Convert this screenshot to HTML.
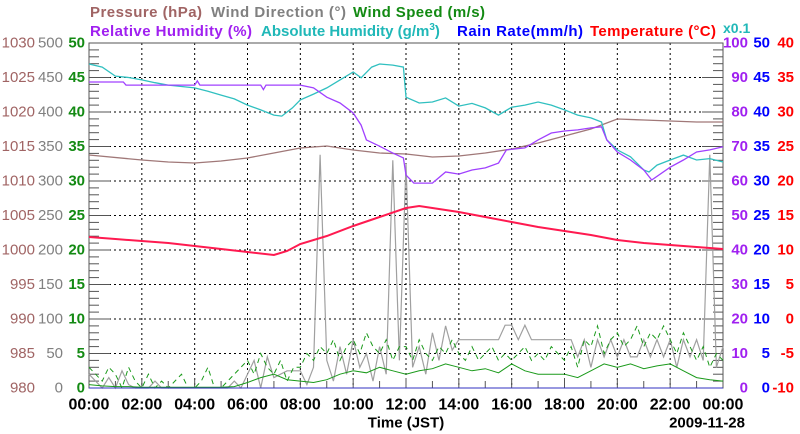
<!DOCTYPE html>
<html><head><meta charset="utf-8"><style>
html,body{margin:0;padding:0;background:#fff;}
svg{display:block;font-family:"Liberation Sans",Arial,sans-serif;}
</style></head><body>
<svg id="chart" width="800" height="434" viewBox="0 0 800 434" xmlns="http://www.w3.org/2000/svg">
<g id="titles" font-weight="bold" font-size="15">
<text x="90" y="17" fill="#a06464" textLength="112">Pressure (hPa)</text>
<text x="211" y="17" fill="#808080" textLength="135">Wind Direction (°)</text>
<text x="353" y="17" fill="#138a13" textLength="132">Wind Speed (m/s)</text>
<text x="90" y="36" fill="#a020f0" textLength="162">Relative Humidity (%)</text>
<text x="261" y="36" fill="#20b8b8">Absolute Humidity (g/m<tspan font-size="10" dy="-6">3</tspan><tspan dy="6">)</tspan></text>
<text x="457" y="36" fill="#0000ff" textLength="126">Rain Rate(mm/h)</text>
<text x="590" y="36" fill="#ff0000" textLength="126">Temperature (°C)</text>
<text x="723" y="33" fill="#20b8b8" font-size="14">x0.1</text>
</g>
<g id="grid"></g>
<g id="axes"></g>
<g id="series"></g>
<g id="labels"></g>
</svg>
<script>
// ---- data ----
const hourTicks = ["00:00","02:00","04:00","06:00","08:00","10:00","12:00","14:00","16:00","18:00","20:00","22:00","00:00"];
const pressureTicks = [980,985,990,995,1000,1005,1010,1015,1020,1025,1030];
const windDirTicks = [0,50,100,150,200,250,300,350,400,450,500];
const windSpeedTicks = [0,5,10,15,20,25,30,35,40,45,50];
const rhTicks = [0,10,20,30,40,50,60,70,80,90,100];
const rainTicks = [0,5,10,15,20,25,30,35,40,45,50];
const tempTicks = [-10,-5,0,5,10,15,20,25,30,35,40];

const tempTimes = [0,1,2,3,4,5,6,7,7.5,8,9,10,11,12,12.5,13,14,15,16,17,18,19,20,21,22,23,24];
const tempValues = [11.88,11.59,11.30,11.01,10.58,10.14,9.71,9.28,9.86,10.87,12.03,13.48,14.78,16.09,16.38,16.09,15.51,14.78,14.06,13.33,12.75,12.17,11.45,11.01,10.72,10.43,10.14];

const presTimes = [0,2,3,4,5,6,7,8,9,10,11,12,13,14,15,16,17,18,19,19.5,20,21,22,23,24];
const presValues = [1013.77,1013.04,1012.75,1012.61,1012.90,1013.33,1014.06,1014.78,1015.07,1014.49,1014.06,1013.91,1013.48,1013.62,1014.06,1014.64,1015.51,1016.52,1017.54,1018.26,1018.99,1018.84,1018.70,1018.55,1018.55];

const rhTimes = [0,1.3,1.4,4,4.1,4.2,6.5,6.6,6.7,8,8.5,9,9.5,10,10.3,10.5,11,11.5,11.9,12,12.3,13,13.5,14,14.5,15,15.5,15.8,16.5,17,17.5,18,18.5,19,19.4,19.6,20,20.5,21,21.3,22,22.5,23,23.5,24];
const rhValues = [88.7,88.7,87.8,87.8,89.0,87.8,87.8,86.5,87.8,87.8,87.0,84.3,82.6,79.7,76.2,71.9,70.1,68.1,66.7,61.7,59.4,59.4,62.6,62.0,63.2,63.8,65.2,69.0,69.6,71.9,73.9,74.5,74.8,75.4,75.7,71.9,68.4,66.1,63.2,60.3,64.0,66.1,68.4,69.0,69.9];

const ahTimes = [0,0.5,1,1.5,2,2.5,3,3.5,4,4.5,5,5.5,6,6.5,7,7.3,7.7,8,8.5,9,9.5,10,10.3,10.7,11,11.5,11.9,12,12.5,13,13.5,14,14.5,15,15.5,16,16.5,17,17.5,18,18.5,19,19.4,19.6,20,20.5,21,21.2,21.5,22,22.5,23,23.5,24];
const ahValues = [9.39,9.30,9.04,9.00,8.93,8.85,8.78,8.74,8.70,8.60,8.49,8.38,8.20,8.06,7.91,7.88,8.12,8.35,8.52,8.70,8.93,9.16,8.99,9.30,9.39,9.36,9.30,8.43,8.26,8.29,8.41,8.17,8.25,8.12,7.91,8.14,8.20,8.29,8.20,8.06,7.91,7.83,7.71,7.19,6.90,6.70,6.32,6.26,6.46,6.61,6.75,6.61,6.65,6.55];

const gustValues = [3,2,1,3, 2,0,3,1, 0,2,0,1, 0,1,2,0, 0,1,3,0, 0,1,2,3, 4,2,5,3, 2,4,1,3, 3,5,4,6, 5,7,4,6, 7,5,8,6, 5,7,4,6, 6,4,7,5, 4,6,5,7, 5,4,6,4, 5,6,4,5, 4,5,6,4, 5,4,6,5, 4,6,3,7, 6,9,5,7, 8,6,7,9, 6,8,7,9, 7,5,8,6, 4,6,3,5, 4];
const speedValues = [0.5,0.3,0.2,0.2,0.1,0.1,0.1,0.1,0.1,0.1,0.1,0.2, 0.8,1.5,2,1.2,1.0,0.8,1.2,2.0, 2.5,2.2,3,2.5,2.0,2.5,2.8,3.5, 3,2.5,2.8,2.2,3.5,2.5,2.0,2.0, 2.0,1.5,2.5,3.5,3.0,3.5,2.8,3.2, 3.5,2.5,1.5,1.2,1.0];
const windDirValues = [20,10,0,15, 0,25,5,0, 0,0,10,0, 0,0,0,0, 0,0,0,0, 0,0,10,0, 20,40,0,45, 15,20,25,25, 25,5,30,338, 40,10,60,20, 70,30,50,10, 60,20,330,40, 325,30,60,20, 80,40,90,55, 70,70,70,70, 70,70,70,91, 91,70,91,70, 70,70,70,70, 70,70,45,70, 30,70,45,70, 45,70,45,45, 70,45,70,45, 70,30,70,45, 70,40,338,30, 60];
const rainValues = [0,0];

// ---- geometry ----
const X0=89, X1=723, Y0=43, Y1=388;
const NS='http://www.w3.org/2000/svg';
const xs = h => X0 + (X1-X0)*h/24;
const yLin = (min,max) => v => Y1 - (Y1-Y0)*(v-min)/(max-min);
const yP=yLin(980,1030), yWD=yLin(0,500), yWS=yLin(0,50), yRH=yLin(0,100), yAH=yLin(0,10), yR=yLin(0,50), yT=yLin(-10,40);

function el(tag, attrs, parent){const e=document.createElementNS(NS,tag);for(const k in attrs)e.setAttribute(k,attrs[k]);parent.appendChild(e);return e;}
const grid=document.getElementById('grid'), axes=document.getElementById('axes'), series=document.getElementById('series'), labels=document.getElementById('labels');

// gridlines
for(let i=1;i<12;i++){const g=el('line',{x1:xs(i*2),x2:xs(i*2),y1:Y0,y2:Y1,stroke:'#000','stroke-width':1,'stroke-dasharray':'2,3'},grid);

}
for(let i=1;i<10;i++){const y=Y0+(Y1-Y0)*i/10;const g=el('line',{x1:X0,x2:X1,y1:y,y2:y,stroke:'#000','stroke-width':1,'stroke-dasharray':'2,3'},grid);

}

// frame & ticks
const frame=el('rect',{x:X0,y:Y0,width:X1-X0,height:Y1-Y0,fill:'none',stroke:'#555','stroke-width':1},axes);


for(let i=0;i<=50;i++){const y=Y1-(Y1-Y0)*i/50;const len=(i%5===0)?21:10;
const t1=el('line',{x1:X0,x2:X0+len,y1:y,y2:y,stroke:'#555','stroke-width':1},axes);


const t2=el('line',{x1:X1-len,x2:X1,y1:y,y2:y,stroke:'#555','stroke-width':1},axes);

}
for(let h=0;h<=24;h++){const len=(h%2===0)?10:7;
const t=el('line',{x1:xs(h),x2:xs(h),y1:Y1-len,y2:Y1,stroke:'#555','stroke-width':1},axes);

}

function poly(times, vals, yf, attrs, name){
  const pts=times.map((t,i)=>xs(t).toFixed(1)+','+yf(vals[i]).toFixed(1)).join(' ');
  const p=el('polyline',Object.assign({points:pts,fill:'none'},attrs),series);
  
  
  return p;
}
const q = n => Array.from({length:n},(_,i)=>i*24/(n-1));
poly(q(windDirValues.length), windDirValues, yWD, {stroke:'#a0a0a0','stroke-width':1.2}, 'wind-direction-line');
poly(q(gustValues.length), gustValues, yWS, {stroke:'#1a9a1a','stroke-width':1,'stroke-dasharray':'5,4'}, 'wind-gust-line');
poly(q(speedValues.length), speedValues, yWS, {stroke:'#1a9a1a','stroke-width':1}, 'wind-speed-line');
poly(q(rainValues.length), rainValues, yR, {stroke:'#3030c0','stroke-width':1}, 'rain-rate-line');
poly(presTimes, presValues, yP, {stroke:'#a07878','stroke-width':1.3}, 'pressure-line');
poly(ahTimes, ahValues, yAH, {stroke:'#30c0c0','stroke-width':1.3}, 'absolute-humidity-line');
poly(rhTimes, rhValues, yRH, {stroke:'#a040ff','stroke-width':1.3}, 'relative-humidity-line');
poly(tempTimes, tempValues, yT, {stroke:'#ff1a50','stroke-width':2}, 'temperature-line');

// axis labels
function label(x,y,txt,color,anchor,weight,name,size){
  const t=el('text',{x:x,y:y,fill:color,'text-anchor':anchor,'font-size':size||15,'font-weight':weight,'dominant-baseline':'central'},labels);
  t.textContent=txt;
  
  
}
pressureTicks.forEach(v=>label(35,yP(v),String(v),'#a06464','end','normal','pressure-tick-label'));
windDirTicks.forEach(v=>label(63,yWD(v),String(v),'#808080','end','normal','wind-direction-tick-label'));
windSpeedTicks.forEach(v=>label(85,yWS(v),String(v),'#138a13','end','bold','wind-speed-tick-label'));
rhTicks.forEach(v=>label(748,yRH(v),String(v),'#a020f0','end','bold','relative-humidity-tick-label'));
rainTicks.forEach(v=>label(770,yR(v),String(v),'#0000ff','end','bold','rain-rate-tick-label'));
tempTicks.forEach(v=>label(794,yT(v),String(v),'#ff0000','end','bold','temperature-tick-label'));
hourTicks.forEach((s,i)=>label(xs(i*2),405,s,'#000','middle','bold','x-tick-label',16));
label(xs(12),423,'Time (JST)','#000','middle','bold','x-axis-title',15);
label(745,423,'2009-11-28','#000','end','bold','date-label',15);
</script>
</body></html>
